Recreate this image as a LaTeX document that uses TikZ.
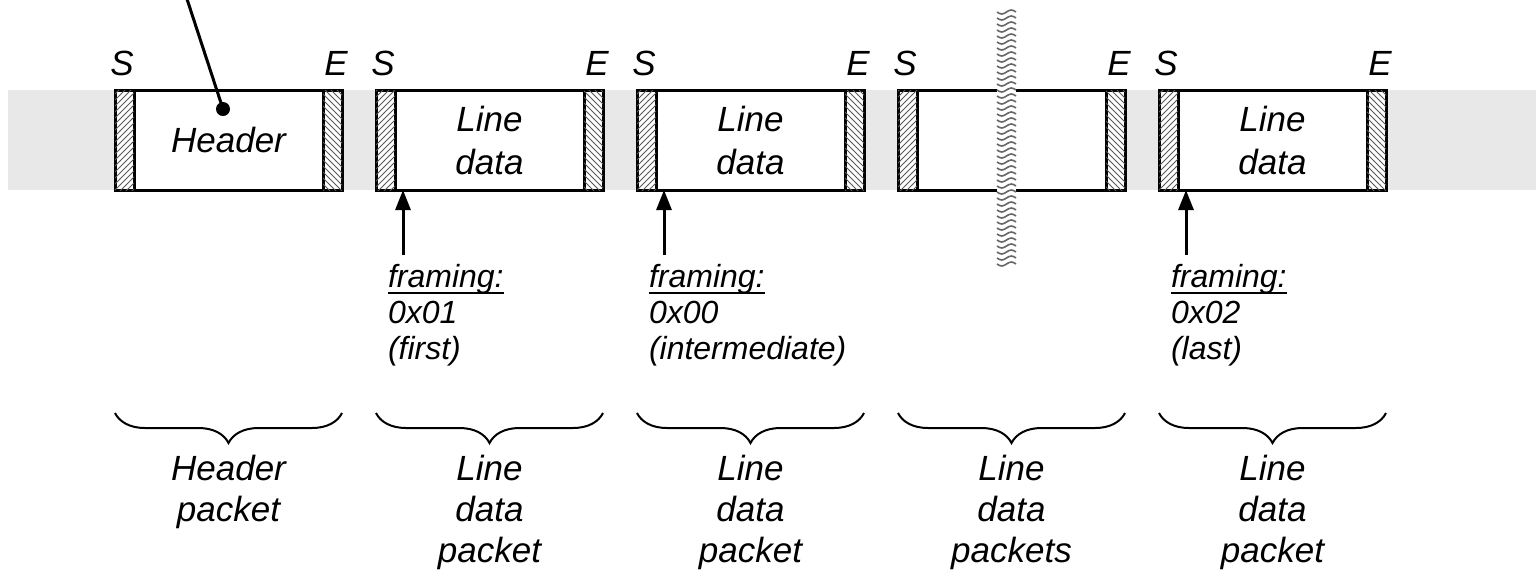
\documentclass[tikz,border=0pt]{standalone}
\usepackage{fontspec}
\setmainfont{Liberation Sans}
\usetikzlibrary{arrows.meta,patterns,decorations.pathreplacing}
\newsavebox\myulbox
\newcommand\myul[1]{\sbox\myulbox{#1}\rlap{\rule[-3.5pt]{\wd\myulbox}{1pt}}\usebox\myulbox}
\begin{document}
\begin{tikzpicture}[x=0.5pt,y=-0.5pt,
  every node/.style={inner sep=0pt, outer sep=0pt},
  box/.style={draw, line width=1.5pt, fill=white, minimum width=113.5pt, minimum height=50pt, align=center,
    font=\fontsize{17.5}{21.5}\selectfont\itshape},
  lstrip/.style={draw, line width=1.5pt, fill=white, minimum width=9.5pt, minimum height=50pt,
    postaction={pattern=north east lines, pattern color=black!65}},
  rstrip/.style={draw, line width=1.5pt, fill=white, minimum width=9.5pt, minimum height=50pt,
    postaction={pattern=north west lines, pattern color=black!65}},
  se/.style={anchor=base, font=\fontsize{17.5}{20}\selectfont\itshape},
  frm/.style={anchor=base west, align=left, font=\fontsize{16}{18}\selectfont\itshape},
  lbl/.style={anchor=base, align=center, font=\fontsize{17.5}{20.5}\selectfont\itshape},
  brc/.style={decorate, decoration={brace, amplitude=15pt}, line width=1pt},
  arr/.style={line width=1.5pt, -{Triangle[length=10pt,width=7.5pt]}},
  wave/.style={draw=black!60, line width=0.8pt}
]
\useasboundingbox (0,0) rectangle (1536,569);
\fill[black!9] (8,90) rectangle (1536,190);

\foreach \i/\x/\t/\b/\by in {1/115/{Header}/{Header\\packet}/521,
                         2/376/{Line\\data}/{Line\\data\\packet}/562,
                         3/637/{Line\\data}/{Line\\data\\packet}/562,
                         4/898/{}/{Line\\data\\packets}/562,
                         5/1159/{Line\\data}/{Line\\data\\packet}/562}{
  \node[box] (box\i) at (\x+113.5,140) {\t};
  \node[lstrip, anchor=north west] (ls\i) at (box\i.north west) {};
  \node[rstrip, anchor=north east] (rs\i) at (box\i.north east) {};
  \node[se] (S\i) at (\x+7,75) {S};
  \node[se] (E\i) at (\x+221,75) {E};
  \coordinate (br\i) at (\x+227,413);
  \coordinate (bl\i) at (\x,413);
  \draw[brc] (br\i) -- (bl\i);
  \node[lbl] (lab\i) at (\x+113.5,\by) {\b};
}

% wavy cut
\fill[white] (997,8) rectangle (1016,272);
\foreach \y in {12,18,...,266}{
  \draw[wave] (997,\y) sin (1001.75,\y+2) cos (1006.5,\y) sin (1011.25,\y-2) cos (1016,\y);
}

% framing arrows
\foreach \i/\x/\t in {2/376/{0x01\\(first)},3/637/{0x00\\(intermediate)},5/1159/{0x02\\(last)}}{
  \coordinate (as\i) at (\x+27,255);
  \draw[arr] (as\i) -- (as\i |- box\i.south);
  \node[frm] (fr\i) at (\x+12,359) {\myul{framing:}\\\t};
}

% header pointer
\coordinate (ptop) at (186,-4);
\coordinate (pdot) at (223,109);
\draw[line width=1.5pt] (ptop) -- (pdot);
\fill (pdot) circle[radius=3.5pt];
\end{tikzpicture}
\end{document}
